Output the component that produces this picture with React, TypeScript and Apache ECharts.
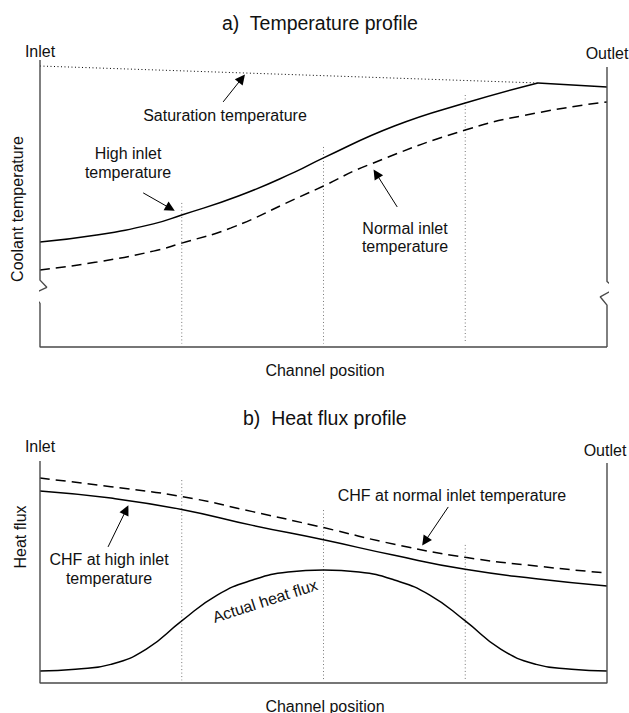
import React, { useEffect, useRef } from "react";
import * as echarts from "echarts";

// ---- Panel a) temperature profile (x: channel position 0-100, y: relative temperature 0-100)
const highInletTemp: [number, number][] = [
  [0, 36.6], [10, 39.0], [20, 42.9], [25, 46.0], [35, 52.6], [45, 61.0],
  [50, 65.9], [62.5, 77.0], [75, 85.0], [87.8, 92.0],
];
const boilingSegment: [number, number][] = [[87.8, 92.0], [100, 90.6]];
const normalInletTemp: [number, number][] = [
  [0, 26.8], [10, 29.6], [20, 33.4], [25, 36.2], [33.7, 41.5], [45, 51.6],
  [50, 56.1], [57.5, 63.1], [75, 75.6], [87.5, 81.5], [100, 85.4],
];
const saturationTemp: [number, number][] = [[0, 97.9], [87.8, 92.0]];
const tempMarkers: [number, number][] = [[25, 50.2], [50, 69.7], [75, 87.8]];

// ---- Panel b) heat flux profile
const fluxX = [0, 12.5, 25, 37.5, 50, 62.5, 75, 87.5, 100];
const chfNormal = [92.3, 88.4, 84.0, 77.2, 70.0, 62.5, 56.6, 52.7, 49.5];
const chfHigh = [86.5, 83.3, 78.2, 71.0, 64.5, 57.5, 51.2, 47.0, 43.7];
const actualX = [0, 6.25, 12.5, 18.75, 25, 31.25, 37.5, 43.75, 50, 56.25, 62.5, 68.75, 75, 81.25, 87.5, 93.75, 100];
const actualFlux = [5.4, 6.2, 8.4, 15.3, 28.0, 39.6, 46.4, 50.0, 50.9, 50.0, 46.4, 39.6, 28.0, 15.3, 8.4, 6.2, 5.4];
const fluxMarkers: [number, number][] = [[25, 91.4], [50, 77.9], [75, 62.2]];

// Frame outlines with broken-axis zigzags
const tempLeftFrame: [number, number][] = [[0, 100], [0, 23.3], [1.2, 20.8], [-1.3, 18.4], [0, 15.2], [0, 0], [100, 0]];
const tempRightFrame: [number, number][] = [[100, 97.6], [100, 22.8], [101.5, 20.4], [98.8, 17.5], [100, 14.6], [100, 0]];
const fluxFrame: [number, number][] = [[0, 100], [0, 0], [100, 0], [100, 99.1]];

// Arrow annotations: [from, to] in data coordinates
const tempArrows: [[number, number], [number, number]][] = [
  [[32.3, 85.4], [35.6, 93.6]],
  [[18.2, 53.7], [23.0, 48.3]],
  [[63.0, 48.8], [59.3, 60.4]],
];
const fluxArrows: [[number, number], [number, number]][] = [
  [[12.0, 61.3], [15.2, 78.0]],
  [[72.0, 79.3], [67.9, 63.8]],
];

const FONT = '"Liberation Sans", Arial, sans-serif';
const INK = "#111";
const FRAME = "#4a4a4a";

type Label = { text: string; x: number; y: number; size?: number; rot?: number; align?: string };
const labels: Label[] = [
  { text: "a)  Temperature profile", x: 222, y: 23, size: 19.5, align: "left" },
  { text: "Inlet", x: 40, y: 51 },
  { text: "Outlet", x: 607, y: 53 },
  { text: "Coolant temperature", x: 17, y: 209, rot: Math.PI / 2 },
  { text: "Saturation temperature", x: 225, y: 115 },
  { text: "High inlet", x: 128, y: 153 },
  { text: "temperature", x: 128, y: 172 },
  { text: "Normal inlet", x: 405, y: 228 },
  { text: "temperature", x: 405, y: 246 },
  { text: "Channel position", x: 325, y: 370 },
  { text: "b)  Heat flux profile", x: 243, y: 418, size: 19.5, align: "left" },
  { text: "Inlet", x: 40, y: 446 },
  { text: "Outlet", x: 605, y: 450 },
  { text: "Heat flux", x: 20, y: 537, rot: Math.PI / 2 },
  { text: "CHF at high inlet", x: 109, y: 559 },
  { text: "temperature", x: 109, y: 578 },
  { text: "CHF at normal inlet temperature", x: 452, y: 495 },
  { text: "Actual heat flux", x: 265, y: 601, rot: 0.31 },
  { text: "Channel position", x: 325, y: 706 },
];

function lineSeries(grid: number, data: (number | null)[][], lineStyle: any, extra: any = {}) {
  return {
    type: "line",
    xAxisIndex: grid,
    yAxisIndex: grid,
    data,
    symbol: "none",
    showSymbol: false,
    clip: false,
    silent: true,
    lineStyle,
    z: 3,
    ...extra,
  };
}

function arrowMarks(arrows: [[number, number], [number, number]][]) {
  return {
    silent: true,
    animation: false,
    symbol: ["none", "triangle"],
    symbolSize: 10,
    label: { show: false },
    itemStyle: { color: "#000" },
    lineStyle: { color: "#000", width: 1, type: "solid" },
    data: arrows.map(([a, b]) => [{ coord: a }, { coord: b }]),
  };
}

const solid = { color: "#000", width: 1.5, type: "solid" };
const dashed = { color: "#000", width: 1.5, type: [10, 6] };
const dotted = { color: "#777", width: 1, type: [1, 2.5] };
const frame = { color: FRAME, width: 1.4, type: "solid" };
const curve = { smooth: 0.5 };

function buildOption() {
  const series: any[] = [];
  // Panel a
  series.push(lineSeries(0, highInletTemp, solid, { ...curve, markLine: arrowMarks(tempArrows) }));
  series.push(lineSeries(0, boilingSegment, solid));
  series.push(lineSeries(0, normalInletTemp, dashed, curve));
  series.push(lineSeries(0, saturationTemp, { color: "#000", width: 1, type: [1, 2.5] }));
  tempMarkers.forEach(([x, top]) => series.push(lineSeries(0, [[x, top], [x, 1.2]], dotted, { z: 2 })));
  series.push(lineSeries(0, tempLeftFrame, frame));
  series.push(lineSeries(0, tempRightFrame, frame));
  // Panel b
  series.push(lineSeries(1, fluxX.map((x, i) => [x, chfNormal[i]]), dashed, { ...curve, markLine: arrowMarks(fluxArrows) }));
  series.push(lineSeries(1, fluxX.map((x, i) => [x, chfHigh[i]]), solid, curve));
  series.push(lineSeries(1, actualX.map((x, i) => [x, actualFlux[i]]), solid, curve));
  fluxMarkers.forEach(([x, top]) => series.push(lineSeries(1, [[x, top], [x, 1.2]], dotted, { z: 2 })));
  series.push(lineSeries(1, fluxFrame, frame));

  const axisBase = { type: "value", min: 0, max: 100, show: false };
  return {
    animation: false,
    backgroundColor: "#fff",
    grid: [
      { left: 40, top: 60, width: 567, height: 287 },
      { left: 40, top: 461, width: 567, height: 222 },
    ],
    xAxis: [{ ...axisBase, gridIndex: 0 }, { ...axisBase, gridIndex: 1 }],
    yAxis: [{ ...axisBase, gridIndex: 0 }, { ...axisBase, gridIndex: 1 }],
    series,
    graphic: labels.map((l) => ({
      type: "text",
      x: l.x,
      y: l.y,
      rotation: l.rot || 0,
      silent: true,
      style: {
        text: l.text,
        font: `${l.size || 16}px ${FONT}`,
        fill: INK,
        align: l.align || "center",
        verticalAlign: "middle",
        textAlign: l.align || "center",
        textVerticalAlign: "middle",
      },
    })),
  };
}

export default function App() {
  const ref = useRef<HTMLDivElement>(null);
  useEffect(() => {
    if (!ref.current) return;
    const chart = echarts.init(ref.current, undefined, { renderer: "svg" });
    chart.setOption(buildOption() as any);
    return () => chart.dispose();
  }, []);
  return (
    <div
      ref={ref}
      style={{ position: "fixed", left: 0, top: 0, width: 629, height: 713, background: "#fff" }}
    />
  );
}
